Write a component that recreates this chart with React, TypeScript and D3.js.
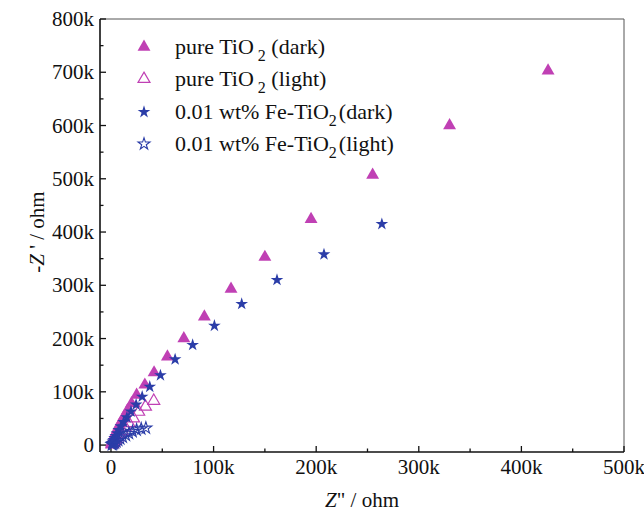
import React from "react";
import * as d3 from "d3";

const W = 644;
const H = 516;

// Series values: [Z' (kohm), -Z'' (kohm)]
const tiDarkX = [426, 330, 255, 195, 150, 117, 91, 71, 55, 42, 33, 25, 20, 16, 12.5, 10, 7.8, 6.1, 4.7, 3.6, 2.7, 2, 1.4, 0.9, 0.5];
const tiDarkY = [703, 600, 507, 424, 353, 293, 241, 200, 166, 136, 113, 94, 78, 65, 53, 44, 36, 29, 23, 18, 13.5, 10, 7, 4.5, 2.5];

const tiLightX = [41.7, 33.6, 27, 22, 17.5, 14, 11, 8.5, 6.5, 5, 3.8, 2.8, 2, 1.4, 1];
const tiLightY = [83, 72, 62.5, 50, 41, 33, 26, 20, 15, 11, 8, 5.5, 3.5, 2, 1];

const feDarkX = [264, 207.6, 161.8, 127.4, 100.8, 79.6, 62.5, 48.2, 37.8, 30.4, 24.5, 19.5, 15.5, 12.3, 9.7, 7.6, 6, 4.6, 3.5, 2.6, 1.9, 1.3, 0.8];
const feDarkY = [415, 358, 310, 265, 224, 188, 161, 131, 109.5, 90.8, 76, 63, 52, 43, 35, 28, 22, 17, 13, 9.5, 6.5, 4, 2.2];

const feLightX = [34, 29.5, 25, 21, 17.5, 14.5, 11.5, 9, 7, 5.2, 3.8, 2.6, 1.7, 1];
const feLightY = [32, 30.5, 28.5, 25.5, 22, 18.5, 15, 12, 9, 6.5, 4.5, 3, 1.8, 1];

const xTicks = [0, 100, 200, 300, 400, 500];
const yTicks = [0, 100, 200, 300, 400, 500, 600, 700, 800];
const xMinor = [50, 150, 250, 350, 450];
const yMinor = [50, 150, 250, 350, 450, 550, 650, 750];

const MAGENTA = "#C040B4";
const BLUE = "#2B3DA8";

const left = 100, right = 624, top = 19, bottom = 452;

const x = d3.scaleLinear().domain([-10.7, 500]).range([left, right]);
const y = d3.scaleLinear().domain([-13, 800]).range([bottom, top]);

const tri = d3.symbol().type(d3.symbolTriangle).size(72)();
const triOpen = d3.symbol().type(d3.symbolTriangle).size(62)();
const star = d3.symbol().type(d3.symbolStar).size(50)();
const starOpen = d3.symbol().type(d3.symbolStar).size(44)();

const fmt = (v: number) => (v === 0 ? "0" : `${v}k`);

export default function App() {
  const font = "'Liberation Serif', 'Times New Roman', serif";
  const series = [
    { xs: tiDarkX, ys: tiDarkY, d: tri, fill: MAGENTA, stroke: "none", sw: 0 },
    { xs: tiLightX, ys: tiLightY, d: triOpen, fill: "none", stroke: MAGENTA, sw: 1.2 },
    { xs: feDarkX, ys: feDarkY, d: star, fill: BLUE, stroke: "none", sw: 0 },
    { xs: feLightX, ys: feLightY, d: starOpen, fill: "none", stroke: BLUE, sw: 1.1 },
  ];
  const legendRows = [
    { main: "pure TiO", sub: "2", tail: " (dark)", subGap: 4, d: tri, fill: MAGENTA, stroke: "none", sw: 0 },
    { main: "pure TiO", sub: "2", tail: " (light)", subGap: 4, d: triOpen, fill: "none", stroke: MAGENTA, sw: 1.2 },
    { main: "0.01 wt% Fe-TiO", sub: "2", tail: "(dark)", subGap: 0, d: star, fill: BLUE, stroke: "none", sw: 0 },
    { main: "0.01 wt% Fe-TiO", sub: "2", tail: "(light)", subGap: 0, d: starOpen, fill: "none", stroke: BLUE, sw: 1.1 },
  ];
  const legendY = [47, 79, 112, 144];
  return (
    <svg width={W} height={H} style={{ display: "block", position: "absolute", left: 0, top: 0 }} fontFamily={font}>
      <rect width={W} height={H} fill="#fff" />
      {/* frame */}
      <line x1={left} x2={right} y1={top} y2={top} stroke="#555" strokeWidth={1} />
      <line x1={right} x2={right} y1={top} y2={bottom} stroke="#555" strokeWidth={1} />
      <line x1={left} x2={right} y1={bottom} y2={bottom} stroke="#111" strokeWidth={1.6} />
      <line x1={left} x2={left} y1={top} y2={bottom} stroke="#111" strokeWidth={1.6} />
      {/* ticks */}
      {xTicks.map((t) => (
        <g key={`xt${t}`}>
          <line x1={x(t)} x2={x(t)} y1={bottom} y2={bottom - 6} stroke="#111" strokeWidth={1.3} />
          <text x={x(t)} y={474} fontSize={21} textAnchor="middle" fill="#111">{fmt(t)}</text>
        </g>
      ))}
      {xMinor.map((t) => (
        <line key={`xm${t}`} x1={x(t)} x2={x(t)} y1={bottom} y2={bottom - 3.5} stroke="#111" strokeWidth={1.3} />
      ))}
      {yTicks.map((t) => (
        <g key={`yt${t}`}>
          <line x1={left} x2={left + 6} y1={y(t)} y2={y(t)} stroke="#111" strokeWidth={1.3} />
          <text x={94} y={y(t)} dy="0.34em" fontSize={21} textAnchor="end" fill="#111">{fmt(t)}</text>
        </g>
      ))}
      {yMinor.map((t) => (
        <line key={`ym${t}`} x1={left} x2={left + 3.5} y1={y(t)} y2={y(t)} stroke="#111" strokeWidth={1.3} />
      ))}
      {/* axis titles */}
      <text x={362} y={507} fontSize={21} textAnchor="middle" fill="#111">
        <tspan fontStyle="italic">Z</tspan>" / ohm
      </text>
      <text transform={`translate(44,232) rotate(-90)`} fontSize={21} textAnchor="middle" fill="#111">
        -<tspan fontStyle="italic">Z</tspan> ' / ohm
      </text>
      {/* data */}
      {series.map((s, i) => (
        <g key={`s${i}`}>
          {s.xs.map((v, j) => (
            <path key={j} d={s.d as string} transform={`translate(${x(v)},${y(s.ys[j])})`} fill={s.fill} stroke={s.stroke} strokeWidth={s.sw} />
          ))}
        </g>
      ))}
      {/* legend */}
      {legendRows.map((r, i) => (
        <g key={`l${i}`}>
          <path d={r.d as string} transform={`translate(144,${legendY[i]})`} fill={r.fill} stroke={r.stroke} strokeWidth={r.sw} />
          <text x={175} y={legendY[i] + 7} fontSize={22} fill="#111">
            {r.main}
            <tspan dx={r.subGap} dy={7} fontSize={16}>{r.sub}</tspan>
            <tspan dy={-7} dx={r.subGap === 0 ? 2 : 0}>{r.tail}</tspan>
          </text>
        </g>
      ))}
    </svg>
  );
}
